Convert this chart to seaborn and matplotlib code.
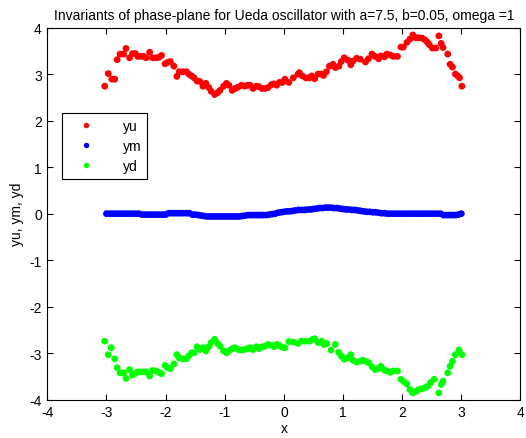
import numpy as np
import pandas as pd
import matplotlib
matplotlib.use("Agg")
import matplotlib.pyplot as plt
import seaborn as sns

# red series (yu)
yu_x = [-3.03, -2.97, -2.91, -2.86, -2.82, -2.77, -2.71, -2.67, -2.61, -2.56, -2.51,
        -2.47, -2.42, -2.37, -2.33, -2.27, -2.22, -2.16, -2.11, -2.07, -2.01, -1.97,
        -1.92, -1.86, -1.81, -1.77, -1.71, -1.65, -1.61, -1.56, -1.52, -1.47, -1.42,
        -1.37, -1.32, -1.27, -1.23, -1.17, -1.12, -1.08, -1.02, -0.97, -0.93, -0.875,
        -0.825, -0.774, -0.717, -0.662, -0.616, -0.572, -0.522, -0.465, -0.421, -0.370,
        -0.320, -0.269, -0.212, -0.168, -0.123, -0.077, -0.027, 0.017, 0.084,
        0.16, 0.24, 0.26, 0.31, 0.37, 0.43, 0.47, 0.52, 0.58, 0.63, 0.67, 0.72, 0.77,
        0.83, 0.87, 0.93, 0.97, 1.02, 1.08, 1.13, 1.17, 1.23, 1.29, 1.38, 1.43, 1.49,
        1.54, 1.60, 1.64, 1.70, 1.74, 1.80, 1.85, 1.92, 1.98, 2.02, 2.08, 2.13, 2.18,
        2.23, 2.28, 2.34, 2.39, 2.43, 2.46, 2.51, 2.57, 2.62, 2.66, 2.69, 2.77, 2.81,
        2.85, 2.90, 2.94, 2.97, 3.01]
yu_y = [2.74, 3.01, 2.89, 2.89, 3.31, 3.43, 3.43, 3.55, 3.35, 3.44, 3.44,
        3.38, 3.38, 3.38, 3.35, 3.47, 3.35, 3.35, 3.36, 3.40, 3.22, 3.25,
        3.27, 3.17, 2.95, 3.05, 3.05, 3.05, 3.00, 2.96, 2.92, 2.85, 2.84,
        2.74, 2.80, 2.71, 2.63, 2.56, 2.60, 2.65, 2.74, 2.80, 2.76, 2.65,
        2.69, 2.72, 2.76, 2.74, 2.76, 2.76, 2.69, 2.74, 2.73, 2.69,
        2.69, 2.71, 2.77, 2.79, 2.76, 2.82, 2.82, 2.89, 2.82,
        2.92, 3.00, 3.03, 2.96, 2.92, 2.92, 2.96, 2.90, 3.00, 3.00, 2.97, 3.05, 3.17,
        3.21, 3.14, 3.17, 3.27, 3.35, 3.30, 3.20, 3.28, 3.34, 3.32, 3.26, 3.33, 3.43,
        3.38, 3.33, 3.39, 3.37, 3.43, 3.41, 3.38, 3.38, 3.58, 3.58, 3.68, 3.75, 3.84,
        3.78, 3.78, 3.77, 3.73, 3.68, 3.63, 3.56, 3.56, 3.82, 3.66, 3.57, 3.43, 3.21,
        3.15, 3.00, 2.96, 2.92, 2.74]

# green series (yd)
yd_x = [-3.03, -2.97, -2.92, -2.86, -2.82, -2.77, -2.71, -2.67, -2.61, -2.56, -2.51,
        -2.47, -2.42, -2.37, -2.33, -2.27, -2.22, -2.16, -2.11, -2.07, -2.01, -1.97,
        -1.92, -1.86, -1.81, -1.77, -1.71, -1.65, -1.61, -1.56, -1.52, -1.47, -1.42,
        -1.37, -1.32, -1.27, -1.23, -1.17, -1.12, -1.08, -1.02, -0.97, -0.93, -0.875,
        -0.825, -0.774, -0.717, -0.662, -0.616, -0.572, -0.522, -0.465, -0.421, -0.370,
        -0.320, -0.269, -0.212, -0.168, -0.123, -0.077, -0.027, 0.017, 0.084,
        0.163, 0.236, 0.293, 0.365, 0.433, 0.488, 0.522, 0.579, 0.635, 0.673, 0.724,
        0.798, 0.870, 0.926, 0.971, 1.02, 1.08, 1.13, 1.17, 1.23, 1.29, 1.33, 1.38,
        1.43, 1.49, 1.54, 1.60, 1.64, 1.70, 1.74, 1.80, 1.85, 1.92, 1.98, 2.03, 2.08,
        2.13, 2.18, 2.23, 2.28, 2.34, 2.39, 2.43, 2.48, 2.54, 2.62, 2.66, 2.69, 2.77,
        2.81, 2.85, 2.90, 2.96, 3.01]
yd_y = [-2.74, -3.03, -2.88, -3.12, -3.31, -3.42, -3.42, -3.54, -3.35, -3.47, -3.43,
        -3.40, -3.40, -3.40, -3.40, -3.49, -3.37, -3.38, -3.41, -3.44, -3.26, -3.31,
        -3.33, -3.23, -3.03, -3.10, -3.12, -3.12, -3.06, -2.99, -2.99, -2.86, -2.92,
        -2.88, -2.95, -2.86, -2.77, -2.70, -2.79, -2.85, -2.95, -2.99, -2.95, -2.90,
        -2.88, -2.92, -2.93, -2.92, -2.90, -2.88, -2.92, -2.86, -2.90, -2.86,
        -2.85, -2.81, -2.83, -2.86, -2.81, -2.83, -2.87, -2.88, -2.75,
        -2.76, -2.79, -2.74, -2.74, -2.74, -2.70, -2.69, -2.77, -2.74, -2.81, -2.79,
        -2.93, -2.81, -2.98, -3.06, -3.13, -3.10, -3.03, -3.15, -3.19, -3.17, -3.15, -3.17,
        -3.20, -3.29, -3.35, -3.33, -3.28, -3.36, -3.38, -3.41, -3.38, -3.38, -3.56, -3.61, -3.66,
        -3.78, -3.85, -3.82, -3.78, -3.76, -3.74, -3.71, -3.63, -3.56, -3.85, -3.67, -3.60, -3.42,
        -3.28, -3.17, -3.03, -2.93, -3.03]

# blue series (ym)
ym_x = np.round(np.arange(-3.0, 3.0001, 0.05), 2)
ym_y = [0.0, 0.0, 0.0, 0.0, 0.0, 0.0, 0.0, 0.0, 0.0, 0.0, 0.0, 0.0,
        -0.02, -0.02, -0.02, -0.02, -0.02, -0.02, -0.02, -0.02, -0.02,
        0.01, 0.01, 0.01, 0.01, 0.01, 0.01, 0.01, 0.01,
        -0.02, -0.02, -0.03, -0.04, -0.05,
        -0.06, -0.06, -0.06, -0.06, -0.06, -0.06, -0.06, -0.06, -0.06, -0.06, -0.06, -0.06, -0.05,
        -0.04, -0.03, -0.03, -0.03, -0.03, -0.03, -0.03, -0.03, -0.02,
        -0.01, 0.0, 0.02, 0.03, 0.04, 0.05, 0.05, 0.06,
        0.07, 0.08, 0.08, 0.08, 0.09, 0.09, 0.10, 0.11,
        0.12, 0.12, 0.13, 0.13, 0.13, 0.12, 0.12,
        0.11, 0.10, 0.09, 0.09, 0.08, 0.08, 0.07, 0.06,
        0.05, 0.04, 0.04, 0.03, 0.03, 0.02, 0.01, 0.01, 0.0,
        0.0, 0.0, 0.0, 0.0, 0.0, 0.0, 0.0, 0.0, 0.0, 0.0, 0.0, 0.0, 0.0, 0.0, 0.0, 0.0, 0.0, 0.0,
        -0.03, -0.03, -0.03, -0.03, -0.03, -0.02,
        0.0]

df = pd.concat([
    pd.DataFrame({"x": yu_x, "y": yu_y, "series": "yu"}),
    pd.DataFrame({"x": ym_x, "y": ym_y, "series": "ym"}),
    pd.DataFrame({"x": yd_x, "y": yd_y, "series": "yd"}),
])

sns.set_style("ticks")
plt.rcParams["font.family"] = ["Liberation Sans", "DejaVu Sans"]
plt.rcParams["axes.unicode_minus"] = False
plt.rcParams["text.color"] = "black"
plt.rcParams["axes.labelcolor"] = "black"
plt.rcParams["xtick.color"] = "black"
plt.rcParams["ytick.color"] = "black"

fig = plt.figure(figsize=(5.26, 4.39), dpi=100)
ax = fig.add_axes([0.09, 0.087, 0.8995, 0.848])

sns.scatterplot(data=df, x="x", y="y", hue="series",
                palette={"yu": "#ff0000", "ym": "#0000ff", "yd": "#00ff00"},
                s=24, linewidth=0, ax=ax)

ax.set_xlim(-4, 4)
ax.set_ylim(-4, 4)
ax.set_xticks(range(-4, 5))
ax.set_yticks(range(-4, 5))
ax.tick_params(direction="in", top=True, right=True, labelsize=10, length=4, width=0.8, pad=4)
for sp in ax.spines.values():
    sp.set_visible(True)
    sp.set_linewidth(0.8)
    sp.set_color("black")

ax.set_xlabel("x", fontsize=10, labelpad=1)
ax.set_ylabel("yu, ym, yd", fontsize=10, labelpad=4)
ax.set_title("Invariants of phase-plane for Ueda oscillator with a=7.5, b=0.05, omega =1",
             fontsize=10, pad=6)

leg = ax.legend(loc="upper left", bbox_to_anchor=(0.031, 0.77), borderaxespad=0,
                fancybox=False, framealpha=1, edgecolor="black", fontsize=10,
                markerscale=0.8, handletextpad=1.4, borderpad=0.4, labelspacing=0.45,
                handlelength=2.6, title=None)
leg.get_frame().set_linewidth(0.8)

fig.savefig("out.png", dpi=100)
